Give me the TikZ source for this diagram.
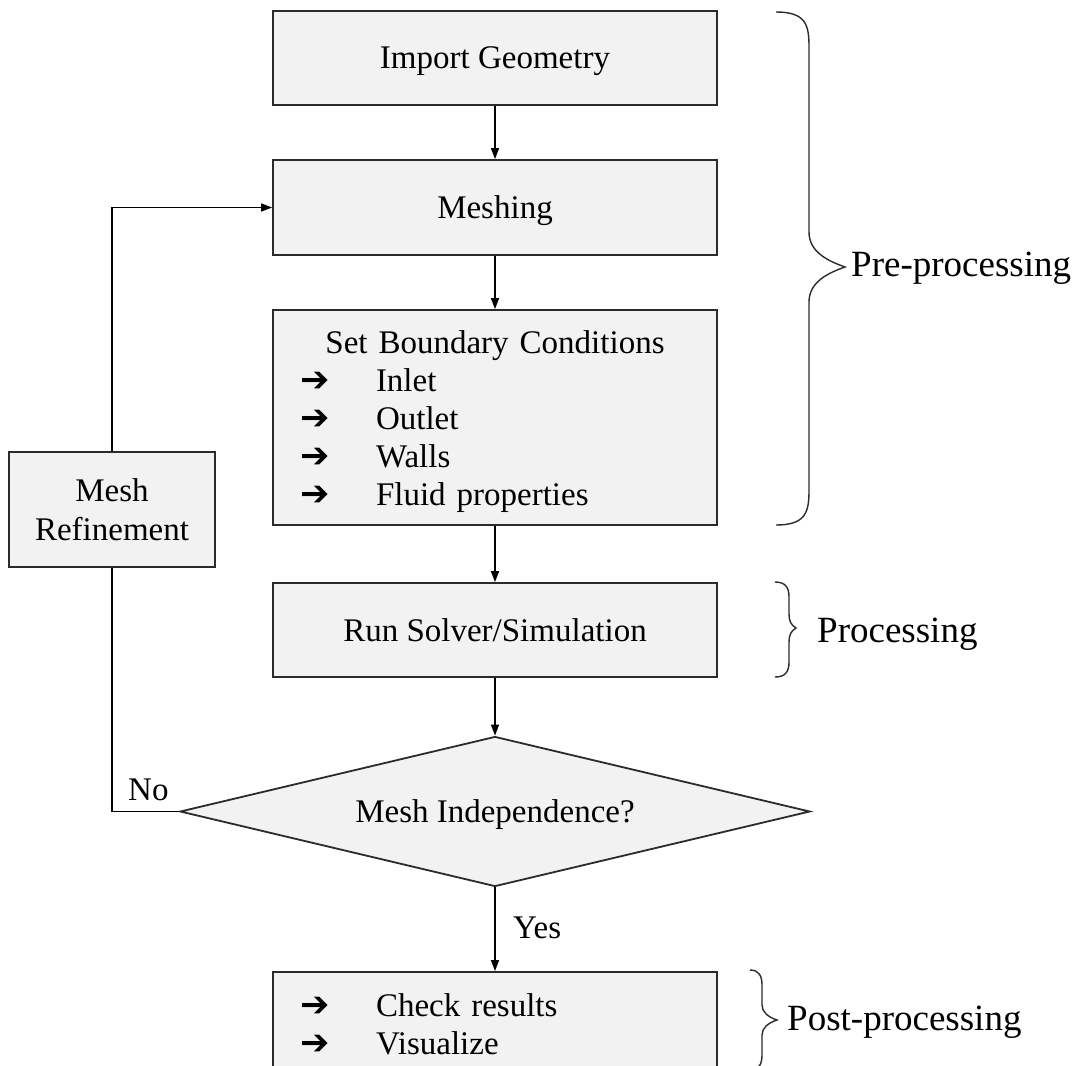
\documentclass[tikz,border=0pt]{standalone}
\usepackage{fontspec}
\setmainfont{Liberation Serif}
\newfontfamily\dvsfont{DejaVu Sans Bold}
\usetikzlibrary{shapes.geometric,arrows.meta}
\newcommand{\barrow}{{\dvsfont\fontsize{35}{35}\selectfont ➔}}
\definecolor{boxfill}{RGB}{242,242,242}
\definecolor{boxline}{RGB}{43,43,43}
\begin{document}
\begin{tikzpicture}[x=1pt,y=-1pt,
  stepbox/.style={draw=boxline, fill=boxfill, line width=1.8pt, minimum width=444pt,
    minimum height=94pt, inner sep=0pt, text height=22pt, text depth=0pt,
    font=\fontsize{33}{38}\selectfont},
  listbox/.style={draw=boxline, fill=boxfill, line width=1.8pt, minimum width=444pt,
    inner sep=0pt, font=\fontsize{33}{38}\selectfont,
    text width=390pt, align=left},
  decbox/.style={shape=diamond, draw=boxline, fill=boxfill, line width=1.8pt, aspect=4.2,
    minimum width=630pt, minimum height=150pt, inner sep=0pt, text height=22pt,
    text depth=0pt, font=\fontsize{33}{38}\selectfont},
  conn/.style={line width=1.4pt, draw=black},
  arr/.style={conn, -{Triangle[length=11pt,width=8pt]}},
  lbl/.style={font=\fontsize{33}{38}\selectfont, inner sep=0pt},
  phase/.style={font=\fontsize{37}{40}\selectfont, inner sep=0pt, anchor=base west},
  bracestyle/.style={draw=boxline, line width=1.4pt}
]
\useasboundingbox (0,0) rectangle (1086,1065);
\clip (0,0) rectangle (1086,1065);

% main boxes
\node[stepbox] (imp) at (495,58) {Import Geometry};
\node[stepbox, minimum height=95pt] (mesh) at (495,207.5) {Meshing};
\node[listbox, minimum height=215pt] (bc) at (495,417.5) {%
  \rule{0pt}{31pt}\makebox[390pt][c]{Set Boundary Conditions}\\
  \makebox[76pt][l]{\barrow}Inlet\\
  \makebox[76pt][l]{\barrow}Outlet\\
  \makebox[76pt][l]{\barrow}Walls\\
  \makebox[76pt][l]{\barrow}Fluid properties};
\node[stepbox] (run) at (495,630) {Run Solver/Simulation};
\node[decbox] (dec) at (495,811.5) {Mesh Independence?};
\node[listbox, minimum height=97pt] (post) at (495,1020.5) {%
  \rule{0pt}{31pt}\makebox[76pt][l]{\barrow}Check results\\
  \makebox[76pt][l]{\barrow}Visualize};
\node[draw=boxline, fill=boxfill, line width=1.8pt, inner sep=0pt,
  font=\fontsize{33}{39}\selectfont, minimum width=206pt, minimum height=115pt,
  align=center] (ref) at (112,509.5) {Mesh\\Refinement};

% connectors
\draw[arr] (imp) -- (mesh);
\draw[arr] (mesh) -- (bc);
\draw[arr] (bc) -- (run);
\draw[arr] (run) -- (dec);
\draw[arr] (dec) -- (post);
\draw[conn] (dec.west) -| (ref.south);
\draw[arr] (ref.north) |- (mesh.west);

% branch labels
\node[lbl, anchor=base west] (yes) at (513,938) {Yes};
\node[lbl, anchor=base west] (no) at (128,800) {No};

% braces
\draw[bracestyle] (776,12) .. controls (806,12) and (809,25) .. (809,47) -- (809,232)
  .. controls (809,252) and (828,261) .. (845,267)
  .. controls (828,273) and (809,282) .. (809,302)
  -- (809,490) .. controls (809,512) and (806,525) .. (776,525);
\draw[bracestyle] (775,582) .. controls (786,582) and (789,588) .. (789,597) -- (789,614)
  .. controls (789,621) and (791,625) .. (796,628)
  .. controls (791,631) and (789,635) .. (789,642)
  -- (789,662) .. controls (789,671) and (786,677) .. (775,677);
\draw[bracestyle] (750,970) .. controls (759,970) and (762,976) .. (762,985) -- (762,1005)
  .. controls (762,1012) and (768,1017) .. (777,1020)
  .. controls (768,1023) and (762,1028) .. (762,1035)
  -- (762,1055) .. controls (762,1064) and (759,1070) .. (750,1070);

% phase labels
\node[phase] (pre) at (851,276) {Pre-processing};
\node[phase] (proc) at (817,642) {Processing};
\node[phase] (postl) at (787,1030) {Post-processing};
\end{tikzpicture}
\end{document}
